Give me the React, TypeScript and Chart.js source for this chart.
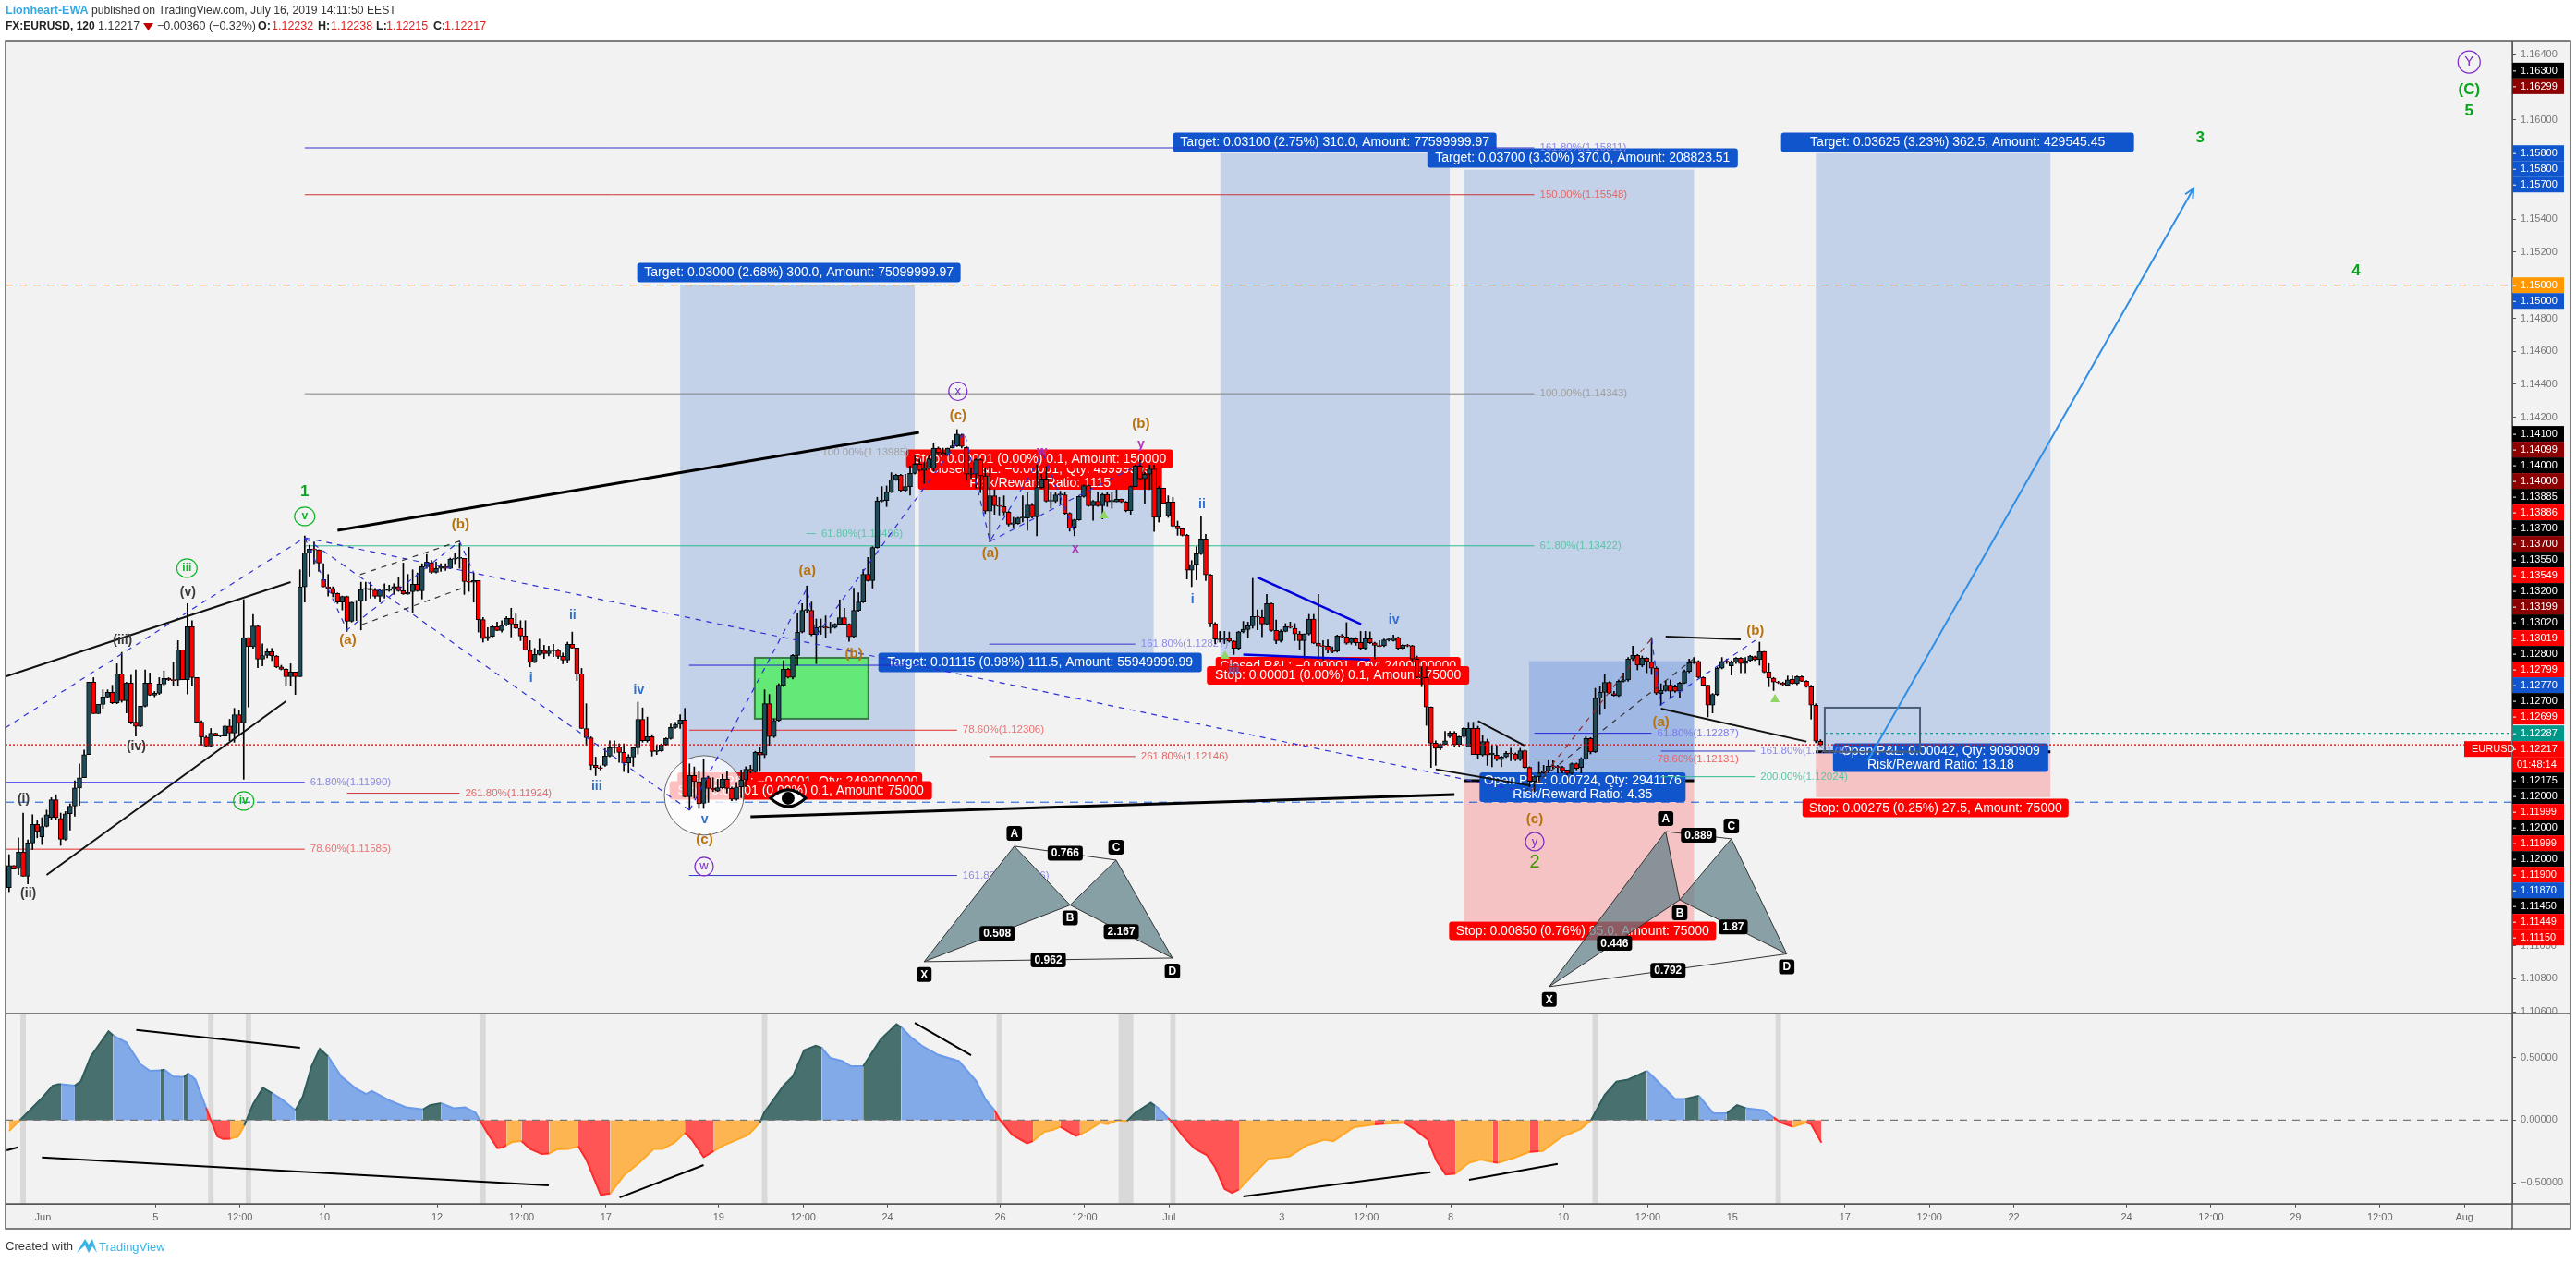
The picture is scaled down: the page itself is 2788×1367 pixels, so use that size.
import React, { useEffect, useRef } from "react";
import { Chart, registerables } from "chart.js";

Chart.register(...registerables);

const FONT = '"Liberation Sans", Arial, sans-serif';

// Price values are stored as points above 1.0 (1 point = 0.00001)
const opens = [
11352,11486,11468,11567,11421,11623,11735,11660,11723,11776,11884,11772,11645,11800,11846,11956,12018,12158,12596,12406,
12462,12507,12535,12471,12647,12484,12591,12354,12329,12451,12591,12518,12529,12585,12619,12611,12609,12792,12611,12932,
12624,12354,12264,12210,12288,12270,12270,12331,12288,12400,12350,12867,12811,12937,12736,12758,12781,12755,12689,12675,
12630,12658,12630,13174,13379,13402,13398,13217,13174,13165,13133,13081,13115,12965,13085,13089,13159,
13165,13154,13117,13152,13152,13159,13176,13150,13131,13145,13189,13150,13296,13320,13262,13286,13296,13286,13342,13346,
13346,13206,13202,13212,12975,12861,12874,12932,12910,12941,12982,12949,12923,12876,12790,12717,12764,12790,12770,12786,
12790,12753,12731,12826,12803,12647,12316,12260,12093,12078,12093,12149,12199,12205,12171,12106,12143,12199,12372,12242,
12266,12177,12180,12218,12255,12322,12341,12367,11902,12031,11994,11863,12018,11953,11938,11957,12009,11953,11887,
11963,12004,12069,12054,12172,12155,12466,12267,12364,12578,12675,12625,12759,12899,13031,13031,12886,12927,12931,12923,
12927,12947,12987,12947,12871,13031,13082,13250,13212,13412,13693,13697,13747,13822,13850,13757,13781,13861,13917,13878,
13893,13893,14014,13986,13973,14014,14027,14094,14018,13856,13856,13943,13846,13632,13725,13665,13660,13626,13553,13557,
13591,13591,13669,13598,13775,13828,13692,13692,13731,13731,13619,13535,13580,13721,13787,13665,13692,13665,13734,
13688,13688,13704,13688,13635,13781,13906,13828,13856,13887,13594,13772,13604,13688,13542,13525,13486,13274,13309,13374,
13464,13246,12951,12858,12855,12863,12845,12802,12901,12915,12938,12994,12990,12949,13072,12910,12848,12904,12932,12923,
12889,12848,12889,12979,12833,12815,12815,12787,12783,12876,12871,12837,12860,12837,12802,12860,12835,12817,12817,12852,
12848,12867,12802,12820,12817,12737,12625,12625,12446,12227,12196,12220,12267,12289,12218,12267,12205,12317,
12317,12155,12237,12158,12155,12127,12144,12166,12162,12127,12181,12080,11996,12024,12047,12060,12088,12084,12080,12065,
12043,12103,12080,12132,12255,12173,12500,12535,12595,12527,12513,12602,12610,12737,12759,12699,12742,12718,12681,12528,
12546,12578,12569,12541,12591,12662,12714,12722,12625,12578,12457,12522,12681,12722,12696,12718,12742,12709,12727,12751,
12733,12783,12658,12621,12597,12591,12578,12614,12587,12630,12602,12569,12457,12239,
];
const highs = [
11552,11486,11654,11804,11641,11794,11757,11776,11822,11897,11915,11804,11813,11860,11999,12102,12186,12596,12624,12462,
12550,12550,12578,12708,12777,12596,12639,12671,12451,12671,12652,12540,12624,12665,12624,12717,12848,12792,13072,12969,
12624,12363,12270,12316,12288,12275,12335,12372,12438,12428,13096,12867,13006,12941,12829,12801,12801,12758,12699,12680,
12708,12658,13277,13482,13426,13445,13398,13314,13249,13174,13137,13118,13118,13081,13091,13202,13202,
13202,13165,13156,13193,13184,13193,13230,13318,13249,13277,13258,13314,13370,13333,13324,13314,13314,13348,13380,13435,
13346,13413,13258,13212,12988,12926,12941,12960,12969,12993,13044,13016,12969,12969,12848,12801,12857,12820,12815,12826,
12796,12773,12839,12900,12803,12680,12466,12266,12143,12090,12195,12242,12242,12223,12223,12158,12205,12475,12441,12385,
12279,12214,12223,12260,12344,12353,12400,12438,12102,12083,12055,12130,12027,12018,12009,12037,12055,11962,11990,
12065,12084,12093,12178,12205,12550,12522,12373,12587,12727,12680,12765,13016,13072,13179,13082,12979,12979,12998,12960,
12951,13095,13044,12951,13166,13138,13278,13352,13417,13716,13781,13785,13865,13856,13856,13856,13906,13968,13949,13930,
13968,14046,14020,14014,14014,14061,14126,14098,14024,13893,13949,13949,13893,13902,13762,13716,13725,13632,13595,13595,
13725,13744,13679,13912,13856,13902,13744,13744,13753,13744,13623,13583,13725,13791,13791,13697,13744,13740,13744,
13744,13762,13706,13691,13785,13911,13939,13865,13911,13911,13781,13772,13725,13716,13572,13528,13492,13333,13417,13604,
13492,13250,12957,12904,12904,12900,12848,12904,12964,12960,13225,13035,13035,13128,13076,12973,12914,12951,12960,12951,
12904,12889,13007,13007,13128,12848,12852,12811,12882,12886,12957,12867,12867,12904,12904,12901,12839,12848,12858,12863,
12882,12871,12826,12826,12820,12755,12690,12690,12447,12242,12224,12298,12298,12298,12270,12322,12354,12354,
12330,12274,12252,12214,12214,12149,12177,12196,12168,12196,12186,12084,12028,12112,12093,12121,12121,12093,12088,12065,
12107,12107,12140,12267,12261,12559,12569,12643,12600,12540,12610,12653,12746,12815,12765,12755,12746,12867,12690,12587,
12606,12610,12580,12597,12671,12737,12746,12727,12629,12578,12528,12686,12746,12737,12727,12746,12746,12746,12759,12755,
12839,12783,12709,12625,12602,12597,12634,12634,12634,12634,12606,12578,12466,12248,
];
const lows = [
11328,11464,11431,11421,11375,11583,11654,11613,11720,11766,11766,11608,11639,11701,11785,11850,12018,12158,12406,12406,
12438,12503,12466,12466,12475,12410,12344,12270,12326,12447,12516,12508,12522,12578,12606,12578,12578,12611,12525,12572,
12354,12214,12204,12204,12270,12265,12270,12242,12233,12270,12009,12447,12801,12684,12695,12745,12727,12684,12671,12572,
12578,12522,12630,13081,13240,13314,13268,13174,13118,13113,13072,13034,12904,12960,12969,12913,13090,
13105,13105,13081,13105,13146,13128,13146,13128,13128,13020,13146,13100,13286,13255,13258,13268,13273,13283,13314,13286,
13128,13146,13081,12900,12839,12848,12870,12908,12900,12937,12870,12919,12848,12790,12689,12714,12760,12740,12755,12751,
12740,12708,12712,12803,12606,12316,12214,12068,12031,12065,12087,12145,12167,12111,12055,12046,12087,12162,12233,12233,
12149,12158,12177,12214,12251,12316,12316,11902,11822,11893,11832,11832,11869,11934,11934,11953,11925,11878,11882,
11897,11963,12047,12050,12056,12140,12214,12261,12360,12569,12621,12616,12699,12895,13016,12877,12709,12886,12863,12895,
12923,12942,12942,12843,12863,13026,13078,13208,13166,13408,13688,13660,13744,13818,13753,13753,13729,13856,13874,13800,
13889,13874,13970,13968,13968,14014,14023,14014,13818,13828,13772,13744,13617,13445,13613,13609,13609,13542,13535,13553,
13567,13516,13591,13483,13770,13688,13650,13684,13678,13613,13511,13483,13576,13716,13660,13576,13660,13585,13660,
13650,13688,13684,13628,13613,13781,13818,13678,13762,13510,13566,13678,13594,13538,13486,13482,13221,13175,13216,13370,
13212,12932,12830,12839,12830,12839,12764,12796,12895,12863,12923,12914,12871,12942,12904,12830,12839,12901,12923,12848,
12792,12737,12882,12830,12737,12727,12774,12774,12778,12868,12826,12826,12820,12796,12796,12830,12737,12811,12811,12845,
12845,12796,12796,12811,12727,12621,12569,12335,12080,12093,12186,12218,12261,12205,12205,12261,12205,12158,
12130,12149,12093,12084,12121,12084,12140,12121,12121,12121,12074,11963,11935,11991,12043,12047,12075,12047,12047,12037,
12037,12065,12047,12128,12162,12170,12401,12438,12527,12512,12510,12597,12602,12727,12671,12690,12653,12643,12522,12457,
12541,12503,12535,12503,12587,12653,12709,12621,12572,12386,12410,12516,12677,12709,12640,12709,12653,12653,12722,12727,
12699,12653,12569,12546,12588,12576,12572,12585,12580,12600,12565,12373,12230,12212,
];
const closes = [
11486,11464,11567,11421,11623,11735,11692,11723,11794,11884,11776,11645,11800,11846,11956,12018,12158,12596,12406,12462,
12507,12535,12471,12647,12484,12591,12354,12329,12451,12591,12518,12529,12585,12619,12611,12606,12792,12611,12932,12624,
12354,12264,12210,12288,12270,12270,12331,12288,12400,12350,12867,12811,12937,12736,12758,12781,12755,12689,12675,12630,
12658,12630,13174,13379,13402,13398,13318,13174,13165,13133,13081,13115,12965,13081,13089,13159,13165,
13156,13117,13152,13154,13159,13176,13150,13131,13139,13189,13150,13296,13324,13262,13286,13296,13286,13342,13346,13346,
13206,13202,13212,12975,12861,12874,12932,12910,12941,12982,12949,12923,12876,12790,12717,12764,12790,12770,12786,12790,
12753,12731,12826,12803,12647,12316,12260,12093,12078,12074,12149,12199,12205,12171,12106,12143,12199,12372,12242,12266,
12177,12180,12218,12255,12322,12341,12367,11902,12031,11994,11860,12018,11953,11944,11957,12009,11953,11887,11962,
12004,12069,12054,12172,12155,12466,12267,12364,12578,12675,12625,12759,12899,13031,13033,12886,12927,12931,12923,12927,
12947,12987,12947,12871,13031,13082,13250,13212,13412,13693,13697,13747,13822,13850,13757,13781,13861,13917,13878,13893,
13949,14014,13986,13973,14014,14027,14098,14024,13856,13860,13943,13846,13632,13725,13665,13660,13626,13553,13561,13591,
13595,13669,13598,13775,13828,13692,13695,13731,13733,13619,13529,13580,13721,13787,13665,13692,13665,13734,13688,
13697,13704,13688,13635,13781,13906,13828,13856,13887,13594,13772,13678,13688,13542,13525,13486,13274,13309,13374,13464,
13246,12951,12858,12853,12863,12845,12802,12901,12917,12938,12994,12990,12949,13072,12910,12848,12904,12932,12928,12889,
12848,12889,12979,12833,12815,12812,12789,12780,12876,12872,12833,12860,12835,12802,12860,12835,12820,12813,12852,12855,
12867,12802,12820,12815,12737,12625,12621,12446,12227,12196,12220,12242,12289,12218,12267,12317,12317,12158,
12158,12237,12155,12166,12127,12144,12166,12162,12127,12181,12080,11996,12024,12047,12060,12088,12084,12080,12061,12043,
12103,12075,12132,12255,12173,12500,12535,12595,12531,12517,12602,12610,12737,12759,12699,12742,12722,12681,12531,12546,
12578,12541,12541,12591,12662,12714,12722,12625,12578,12457,12522,12681,12722,12718,12718,12742,12709,12727,12755,12733,
12783,12658,12621,12597,12593,12582,12610,12587,12630,12602,12569,12457,12239,12217,
];

// Oscillator pane: vertices (bar position, value)
const oscBars = [
0,2.3,7,9.3,10.5,11.1,14,15.3,17.4,21.2,22.2,25,28,30,32.3,33.1,35,37.2,38.2,39.7,42,43,44.4,45.6,47.2,48.8,50.1,52,54.1,56.1,58.2,61,62.6,64.5,66.2,68,70.8,74,76.1,77.3,80.9,84.6,88.2,89.7,92.1,94.7,97.2,99.4,100.3,
102.2,104.1,105.3,106,107.2,109.2,111,113.5,115.1,116.7,119.2,121.3,123,126.1,128.1,131.1,134.3,137.4,139.3,141.8,144,145.5,148,150.2,152.4,157.5,160,160.9,165,167,169.4,171.9,173.2,175,177.6,179.4,182,185.7,189.1,190.1,192,194.5,198,202.4,206.1,208.1,210,211.2,
213.8,216.9,218.2,220.6,222.5,224,227.3,228.2,230,232.5,234,236.3,238.2,240.1,243.3,244.2,245.1,247,248.3,250.2,252.7,255.2,257,259,260.6,262.1,265.3,268.4,272.8,276.6,280.3,282.2,286.6,291,293.1,297.3,299.8,302.3,304.2,306.1,308.2,311.1,313.6,316.2,317.3,320.5,324,326,326.8,330.5,334.9,337.1,
340,342.5,345,349,350.6,355,357.1,360.1,363.2,366,368.2,370.1,373.9,376,377.6,380.1,383,384,386.2,
];
const oscValues = [
-0.086,0,0.177,0.275,0.287,0.287,0.275,0.312,0.508,0.709,0.675,0.619,0.447,0.393,0.398,0.403,0.349,0.344,0.373,0.324,0.098,0,-0.13,-0.15,-0.147,-0.13,-0.044,0.128,0.258,0.214,0.164,0.079,0.189,0.434,0.569,0.508,0.349,0.25,0.209,0.233,0.16,0.103,0.086,0.12,0.135,0.096,0.103,0.061,0,
-0.118,-0.223,-0.216,-0.199,-0.174,-0.167,-0.228,-0.27,-0.265,-0.233,-0.228,-0.209,-0.314,-0.596,-0.584,-0.437,-0.339,-0.228,-0.228,-0.179,-0.101,-0.155,-0.295,-0.245,-0.199,-0.118,-0.02,0.061,0.275,0.349,0.557,0.594,0.577,0.496,0.471,0.43,0.43,0.643,0.766,0.741,0.668,0.594,0.52,0.471,0.312,0.164,0.079,0,
-0.118,-0.184,-0.167,-0.093,-0.076,-0.052,-0.125,-0.113,-0.081,-0.02,-0.032,0,-0.007,0.061,0.14,0.115,0.091,0.017,-0.037,-0.13,-0.228,-0.277,-0.376,-0.547,-0.579,-0.552,-0.425,-0.307,-0.29,-0.199,-0.155,-0.167,-0.056,-0.034,-0.029,-0.02,-0.081,-0.155,-0.326,-0.432,-0.425,-0.339,-0.314,-0.334,-0.339,-0.302,-0.253,-0.248,-0.245,-0.142,-0.069,0,
0.201,0.307,0.324,0.393,0.336,0.169,0.169,0.194,0.054,0.054,0.12,0.096,0.079,0.022,-0.02,-0.052,-0.02,-0.032,-0.179,
];
const oscStateEnds = [2.3,11.1,14,22.2,32.3,33.1,37.2,38.2,42,47.2,50.1,56.1,61,68,88.2,92.1,100.3,106,109.2,115.1,121.3,128.1,144,150.2,160,173.2,182,190.1,210,218.2,224,228.2,238.2,244.2,247,262.1,291,293.1,297.3,308.2,316.2,317.3,324,326,337.1,349,357.1,360.1,366,370.1,376,380.1,383,387];
const oscStates = ["o","t","b","t","b","t","b","t","b","r","o","t","b","t","b","t","b","r","o","r","o","r","o","r","o","t","b","t","b","r","o","r","o","t","b","r","o","r","o","r","o","r","o","r","o","t","b","t","b","t","b","r","o","r"];
const oscBandBars = [3, 43, 51, 101, 161, 211, 237, 238, 239, 248, 338, 377];

// Axes
const timeTickBars = [7,31,49,67,91,109,127,151,169,187,211,229,247,271,289,307,331,349,367,391,409,427,451,469,487,505,523];
const timeTickLabels = ["Jun","5","12:00","10","12","12:00","17","19","12:00","24","26","12:00","Jul","3","12:00","8","10","12:00","15","17","12:00","22","24","12:00","29","12:00","Aug"];
const priceTicks = [1.164,1.162,1.16,1.158,1.156,1.154,1.152,1.15,1.148,1.146,1.144,1.142,1.14,1.138,1.136,1.134,1.132,1.13,1.128,1.126,1.124,1.122,1.12,1.118,1.116,1.114,1.112,1.11,1.108,1.106];
const oscTicks = [0.5, 0, -0.5];
const priceTagValues = [1.163,1.16299,1.158,1.158,1.157,1.15,1.15,1.141,1.14099,1.14,1.14,1.13885,1.13886,1.137,1.137,1.1355,1.13549,1.132,1.13199,1.1302,1.13019,1.128,1.12799,1.1277,1.127,1.12699,1.12287,1.12217,1.12217,1.12175,1.12,1.11999,1.12,1.11999,1.12,1.119,1.1187,1.1145,1.11449,1.1115];
const priceTagColors = ["k","D","B","B","B","O","B","k","D","k","D","k","r","k","D","k","r","k","D","k","r","k","r","B","k","r","T","r","r","k","k","r","k","r","k","r","B","k","r","r"];

// Drawings, in bar / price coordinates
const positionBoxes = [
  { from: 143, to: 193, target: 1.15, entry: 1.12, stop: 1.11999, bar: false },
  { from: 193.9, to: 243.9, target: 1.1277, entry: 1.13885, stop: 1.13886, bar: false },
  { from: 258.1, to: 307, target: 1.158, entry: 1.127, stop: 1.12699, bar: false },
  { from: 310, to: 359.05, target: 1.157, entry: 1.12, stop: 1.1115, bar: true },
  { from: 385, to: 435, target: 1.158, entry: 1.12175, stop: 1.119, bar: true },
];
const positionLabels = [
  { t: ["Target: 0.03000 (2.68%) 300.0, Amount: 75099999.97"], b: 168.3, p: 1.15077, w: 350, h: 21, c: "#1155cc" },
  { t: ["Closed P&L: \u22120.00001, Qty: 2499000000"], b: 168.5, p: 1.11994, w: 265, h: 20, c: "#ff0000" },
  { t: ["Stop: 0.00001 (0.00%) 0.1, Amount: 75000"], b: 168.7, p: 1.11941, w: 284, h: 20, c: "#ff0000" },
  { t: ["Closed P&L: \u22120.00001, Qty: 49999999", "Risk/Reward Ratio: 1115"], b: 219.7, p: 1.13846, w: 264, h: 30, c: "#ff0000" },
  { t: ["Stop: 0.00001 (0.00%) 0.1, Amount: 150000"], b: 219.6, p: 1.1395, w: 289, h: 20, c: "#ff0000" },
  { t: ["Target: 0.01115 (0.98%) 111.5, Amount: 55949999.99"], b: 219.7, p: 1.12716, w: 350, h: 21, c: "#1155cc" },
  { t: ["Target: 0.03100 (2.75%) 310.0, Amount: 77599999.97"], b: 282.5, p: 1.15866, w: 350, h: 21, c: "#1155cc" },
  { t: ["Closed P&L: \u22120.00001, Qty: 2400000000"], b: 283.2, p: 1.12694, w: 265, h: 20, c: "#ff0000" },
  { t: ["Stop: 0.00001 (0.00%) 0.1, Amount: 75000"], b: 283.2, p: 1.12638, w: 284, h: 20, c: "#ff0000" },
  { t: ["Target: 0.03700 (3.30%) 370.0, Amount: 208823.51"], b: 335.3, p: 1.1577, w: 336, h: 21, c: "#1155cc" },
  { t: ["Open P&L: 0.00724, Qty: 2941176", "Risk/Reward Ratio: 4.35"], b: 335.3, p: 1.11961, w: 223, h: 32, c: "#1155cc" },
  { t: ["Stop: 0.00850 (0.76%) 85.0, Amount: 75000"], b: 335.3, p: 1.11091, w: 289, h: 20, c: "#ff0000" },
  { t: ["Target: 0.03625 (3.23%) 362.5, Amount: 429545.45"], b: 415.2, p: 1.15866, w: 382, h: 21, c: "#1155cc" },
  { t: ["Open P&L: 0.00042, Qty: 9090909", "Risk/Reward Ratio: 13.18"], b: 411.6, p: 1.1214, w: 233, h: 31, c: "#1155cc" },
  { t: ["Stop: 0.00275 (0.25%) 27.5, Amount: 75000"], b: 410.5, p: 1.11835, w: 288, h: 20, c: "#ff0000" },
];
const fibLines = [
  { a: 63, b: 325, p: 1.15832, c: "#3333cc", t: "161.80%(1.15811)", tc: "#8a8ae6" },
  { a: 63, b: 325, p: 1.15548, c: "#cc3333", t: "150.00%(1.15548)", tc: "#e06a6a" },
  { a: 63, b: 325, p: 1.14343, c: "#808080", t: "100.00%(1.14343)", tc: "#a0a0a0" },
  { a: 63, b: 325, p: 1.13422, c: "#2db88f", t: "61.80%(1.13422)", tc: "#5cc4a8" },
  { a: -0.85, b: 63, p: 1.1199, c: "#2a2ae6", t: "61.80%(1.11990)", tc: "#8a8ae6" },
  { a: -0.85, b: 63, p: 1.11585, c: "#e62a2a", t: "78.60%(1.11585)", tc: "#f07070" },
  { a: 72, b: 96, p: 1.11924, c: "#cc3333", t: "261.80%(1.11924)", tc: "#e06a6a" },
  { a: 169.9, b: 171.9, p: 1.13496, c: "#5cc4a8", t: "61.80%(1.13496)", tc: "#5cc4a8" },
  { a: 172, b: 172, p: 1.13985, c: "#a0a0a0", t: "100.00%(1.13985)", tc: "#a0a0a0" },
  { a: 208.9, b: 240, p: 1.12827, c: "#3333cc", t: "161.80%(1.12827)", tc: "#8a8ae6" },
  { a: 144.9, b: 191, p: 1.12699, c: "#2222cc", t: "", tc: "" },
  { a: 144.9, b: 202, p: 1.12306, c: "#e62a2a", t: "78.60%(1.12306)", tc: "#f07070" },
  { a: 208.9, b: 240, p: 1.12146, c: "#cc3333", t: "261.80%(1.12146)", tc: "#e06a6a" },
  { a: 144.9, b: 202, p: 1.11426, c: "#3333cc", t: "161.80%(1.11426)", tc: "#8a8ae6" },
  { a: 325, b: 350, p: 1.12287, c: "#2222dd", t: "61.80%(1.12287)", tc: "#7a7aee" },
  { a: 325, b: 350, p: 1.12131, c: "#ee2222", t: "78.60%(1.12131)", tc: "#f06060" },
  { a: 352, b: 372, p: 1.12179, c: "#3333cc", t: "161.80%(1.12178)", tc: "#8a8ae6" },
  { a: 352, b: 372, p: 1.12024, c: "#2db88f", t: "200.00%(1.12024)", tc: "#5cc4a8" },
];
const trendLines = [
  { pts: [[70, 1.13516], [193.9, 1.14109]], c: "#000", w: 3 },
  { pts: [[-0.6, 1.12632], [60, 1.13203]], c: "#111", w: 2 },
  { pts: [[8, 1.11429], [59, 1.12481]], c: "#111", w: 2 },
  { pts: [[158, 1.11782], [308, 1.11916]], c: "#000", w: 3 },
  { pts: [[266, 1.13231], [288.1, 1.12947]], c: "#0000dd", w: 2.5 },
  { pts: [[263, 1.12763], [290, 1.12733]], c: "#0000dd", w: 2.5 },
  { pts: [[313, 1.12361], [322.9, 1.12213]], c: "#111", w: 2 },
  { pts: [[304, 1.12069], [323.9, 1.11972]], c: "#111", w: 2 },
  { pts: [[353, 1.12873], [369, 1.12856]], c: "#111", w: 2 },
  { pts: [[352, 1.12436], [383, 1.12237]], c: "#111", w: 2 },
];
const oscTrendLines = [
  [[27.1, 0.719], [62, 0.577]],
  [[7, -0.297], [115, -0.52]],
  [[130.1, -0.616], [148, -0.358]],
  [[193, 0.776], [205, 0.518]],
  [[263, -0.608], [302.9, -0.415]],
  [[311.1, -0.476], [330, -0.348]],
  [[-0.5, -0.24], [1.9, -0.216]],
];
const dashedLines = [
  { pts: [[-0.85, 1.12319], [63, 1.13471]], c: "#2f2fd8" },
  { pts: [[63, 1.13471], [145, 1.11821]], c: "#2f2fd8" },
  { pts: [[63, 1.13471], [321, 1.11944]], c: "#2f2fd8" },
  { pts: [[63, 1.13471], [72, 1.12912], [96, 1.13449], [99, 1.13259]], c: "#2f2fd8" },
  { pts: [[74.8, 1.13248], [96.4, 1.13454]], c: "#333" },
  { pts: [[75.2, 1.12945], [96.4, 1.13164]], c: "#333" },
  { pts: [[145, 1.11821], [170, 1.13164], [172, 1.12878], [203.6, 1.14109], [209, 1.13449], [220.3, 1.1398], [227.2, 1.13494]], c: "#2f2fd8" },
  { pts: [[209, 1.13449], [241.4, 1.13924]], c: "#2f2fd8" },
  { pts: [[350, 1.12862], [351.9, 1.12459], [372.1, 1.1285]], c: "#2f2fd8" },
  { pts: [[324.3, 1.11933], [350, 1.12862]], c: "#8b2a2a" },
  { pts: [[322.9, 1.11933], [359, 1.12739]], c: "#333" },
];
const harmonicPatterns = [
  {
    X: [195, 1.10904], A: [214.2, 1.11603], B: [226.1, 1.11247], C: [235.9, 1.11519], D: [247.9, 1.10926],
    ac: "0.766", bd: "2.167", xb: "0.508", xd: "0.962", fill: "#86a0a6",
  },
  {
    X: [328.2, 1.10753], A: [353, 1.11692], B: [356, 1.11278], C: [367, 1.11648], D: [378.8, 1.10951],
    ac: "0.889", bd: "1.87", xb: "0.446", xd: "0.792", fill: "rgba(96,128,136,0.72)",
  },
];
const waveLabels = [
  ["1", 63, 1.13751, "gLarge"], ["v", 63, 1.136, "gCirc"], ["iii", 37.9, 1.13287, "gCirc"], ["iv", 50, 1.11877, "gCirc"],
  ["(v)", 38.1, 1.13141, "black"], ["(iii)", 24.2, 1.1285, "black"], ["(iv)", 27.1, 1.12207, "black"], ["(i)", 3.1, 1.11888, "black"], ["(ii)", 4.1, 1.11318, "black"],
  ["(a)", 72.2, 1.1285, "brown"], ["(b)", 96.2, 1.1355, "brown"],
  ["i", 111.2, 1.12621, "blue"], ["ii", 120.1, 1.13001, "blue"], ["iii", 125.2, 1.11966, "blue"], ["iv", 134.2, 1.12548, "blue"], ["v", 148.2, 1.11765, "blue"],
  ["(c)", 148.2, 1.11642, "brown"], ["w", 148.1, 1.1148, "pCirc"],
  ["(a)", 170.1, 1.1327, "brown"], ["(b)", 180, 1.12766, "brown"], ["(c)", 202.2, 1.1421, "brown"], ["x", 202.2, 1.14358, "pCirc"],
  ["(a)", 209.1, 1.13376, "brown"], ["x", 227.2, 1.13404, "magenta"], ["w", 220.1, 1.13991, "magenta"], ["y", 241.2, 1.14036, "magenta"], ["(b)", 241.2, 1.14159, "brown"],
  ["i", 252.2, 1.13097, "blue"], ["ii", 254.2, 1.13673, "blue"], ["iii", 261, 1.12666, "blue"], ["iv", 295.1, 1.12973, "blue"],
  ["(c)", 325.1, 1.11765, "brown"], ["y", 325.1, 1.11631, "pCirc"], ["2", 325.1, 1.11502, "olive"],
  ["(a)", 352, 1.12352, "brown"], ["(b)", 372.1, 1.12906, "brown"],
  ["Y", 524.2, 1.16352, "pCircL"], ["(C)", 524.2, 1.16184, "gLarge"], ["5", 524.2, 1.16056, "gLarge"], ["4", 500.1, 1.15088, "gLarge"], ["3", 466.9, 1.15893, "gLarge"],
];
const greenMarkers = [[233.3, 1.13611], [259.1, 1.12761], [376.3, 1.12498]];
const greenZone = { from: 158.9, to: 183.1, top: 1.12744, bottom: 1.12375 };
const markCircle = { bar: 148.1, price: 1.11911 };
const eyeMark = { bar: 166, price: 1.11894 };
const tradeRect = { from: 386.9, to: 407.2, top: 1.12442, bottom: 1.12175 };
const closedZone = { from: 323.9, to: 359.05, top: 1.12724, bottom: 1.12 };
const forecastArrow = [[396.1, 1.12123], [465.5, 1.15586]];
const lastPrice = 1.12217;
const blueLevel = 1.1187;
const orangeLevel = 1.15;
const tealLevel = 1.12287;

const STYLE: any = {
  black: { c: "#3a3a3a", f: `bold 14px ${FONT}` },
  brown: { c: "#b8730f", f: `bold 15px ${FONT}` },
  blue: { c: "#2f6fd0", f: `bold 14px ${FONT}` },
  magenta: { c: "#b030b8", f: `bold 14px ${FONT}` },
  gLarge: { c: "#0aa51e", f: `bold 17px ${FONT}` },
  olive: { c: "#3c9a00", f: `20px ${FONT}` },
  gCirc: { c: "#12b52a", f: `bold 12px ${FONT}`, r: 11, ry: 10 },
  pCirc: { c: "#7b28c8", f: `13px ${FONT}`, r: 10, ry: 10 },
  pCircL: { c: "#7b28c8", f: `15px ${FONT}`, r: 12, ry: 12 },
};
const OSC: any = {
  t: { fill: "#47706e", line: "#2f5d5b" },
  b: { fill: "#82a9e8", line: "#6a9ae8" },
  r: { fill: "#ff5555", line: "#ff2a2a" },
  o: { fill: "#fdb551", line: "#ffa726" },
};
const TAG: any = { k: "#000000", D: "#8b0000", r: "#ff0000", B: "#1155cc", T: "#009688", O: "#ff9800" };

function oscStateAt(ctx: any) {
  const mid = (ctx.p0.parsed.x + ctx.p1.parsed.x) / 2;
  const i = oscStateEnds.findIndex((e) => mid < e);
  return OSC[oscStates[i < 0 ? oscStates.length - 1 : i]];
}

const pt = (v: number) => 1 + v / 100000;

const drawingsPlugin = {
  id: "drawings",
  beforeDraw(chart: any) {
    const c = chart.ctx;
    c.save();
    c.fillStyle = "#ffffff";
    c.fillRect(0, 0, 2788, 1367);
    c.fillStyle = "#f2f2f2";
    c.fillRect(6, 44, 2776, 1286);
    c.restore();
  },
  beforeDatasetsDraw(chart: any) {
    const c = chart.ctx;
    const sx = chart.scales.x, sy = chart.scales.y;
    const X = (v: number) => sx.getPixelForValue(v);
    const Y = (v: number) => sy.getPixelForValue(v);
    c.save();
    for (const b of positionBoxes) {
      c.fillStyle = "rgb(196,210,233)";
      c.fillRect(X(b.from), Y(Math.max(b.target, b.entry)), X(b.to) - X(b.from), Math.abs(Y(b.target) - Y(b.entry)));
      c.fillStyle = "rgb(245,195,195)";
      c.fillRect(X(b.from), Math.min(Y(b.entry), Y(b.stop)), X(b.to) - X(b.from), Math.abs(Y(b.stop) - Y(b.entry)));
    }
    c.fillStyle = "rgb(160,184,228)";
    c.fillRect(X(closedZone.from), Y(closedZone.top), X(closedZone.to) - X(closedZone.from), Y(closedZone.bottom) - Y(closedZone.top));
    c.strokeStyle = "#000";
    c.lineWidth = 3;
    for (const b of positionBoxes) {
      if (!b.bar) continue;
      c.beginPath();
      c.moveTo(X(b.from), Y(b.entry));
      c.lineTo(X(b.to), Y(b.entry));
      c.stroke();
    }

    // horizontal levels
    const hline = (p: number, col: string, dash: number[], from = sx.min, w = 1) => {
      c.strokeStyle = col;
      c.lineWidth = w;
      c.setLineDash(dash);
      c.beginPath();
      c.moveTo(X(from), Y(p));
      c.lineTo(X(sx.max), Y(p));
      c.stroke();
      c.setLineDash([]);
    };
    hline(orangeLevel, "#ff9800", [8, 7]);
    hline(blueLevel, "#1155cc", [9, 7]);

    // green zone
    c.fillStyle = "#64e878";
    c.strokeStyle = "#3f7a4c";
    c.lineWidth = 2;
    c.fillRect(X(greenZone.from), Y(greenZone.top), X(greenZone.to) - X(greenZone.from), Y(greenZone.bottom) - Y(greenZone.top));
    c.strokeRect(X(greenZone.from), Y(greenZone.top), X(greenZone.to) - X(greenZone.from), Y(greenZone.bottom) - Y(greenZone.top));

    // position labels
    for (const l of positionLabels) {
      const cx = X(l.b), cy = Y(l.p);
      c.fillStyle = l.c;
      c.beginPath();
      c.roundRect(cx - l.w / 2, cy - l.h / 2, l.w, l.h, 3);
      c.fill();
      c.fillStyle = "#fff";
      c.font = `14px ${FONT}`;
      c.textAlign = "center";
      c.textBaseline = "middle";
      l.t.forEach((s: string, i: number) => {
        c.fillText(s, cx, cy + (i - (l.t.length - 1) / 2) * 15 + 0.5);
      });
    }

    // circle mark
    c.fillStyle = "rgba(255,255,255,0.75)";
    c.strokeStyle = "#666";
    c.lineWidth = 1;
    c.beginPath();
    c.arc(X(markCircle.bar), Y(markCircle.price), 43, 0, Math.PI * 2);
    c.fill();
    c.stroke();

    // fibonacci levels
    for (const f of fibLines) {
      c.strokeStyle = f.c;
      c.lineWidth = 1;
      c.beginPath();
      c.moveTo(X(f.a), Y(f.p));
      c.lineTo(X(f.b), Y(f.p));
      c.stroke();
      if (f.t) {
        c.fillStyle = f.tc;
        c.font = `11.5px ${FONT}`;
        c.textAlign = "left";
        c.textBaseline = "middle";
        c.fillText(f.t, X(f.b) + 6, Y(f.p));
      }
    }

    // harmonic patterns
    const labelBox = (s: string, x: number, y: number) => {
      c.font = `bold 12px ${FONT}`;
      const w = c.measureText(s).width + 8;
      c.fillStyle = "#000";
      c.beginPath();
      c.roundRect(x - w / 2, y - 8, w, 16, 3);
      c.fill();
      c.fillStyle = "#fff";
      c.textAlign = "center";
      c.textBaseline = "middle";
      c.fillText(s, x, y + 0.5);
    };
    for (const h of harmonicPatterns) {
      const P = (q: number[]) => [X(q[0]), Y(q[1])];
      const [xx, xy] = P(h.X), [ax, ay] = P(h.A), [bx, by] = P(h.B), [cx, cy] = P(h.C), [dx, dy] = P(h.D);
      c.fillStyle = h.fill;
      c.beginPath();
      c.moveTo(xx, xy); c.lineTo(ax, ay); c.lineTo(bx, by); c.closePath();
      c.fill();
      c.beginPath();
      c.moveTo(bx, by); c.lineTo(cx, cy); c.lineTo(dx, dy); c.closePath();
      c.fill();
      c.strokeStyle = "#333";
      c.lineWidth = 1;
      c.beginPath();
      c.moveTo(xx, xy); c.lineTo(ax, ay); c.lineTo(bx, by); c.lineTo(cx, cy); c.lineTo(dx, dy); c.lineTo(xx, xy); c.lineTo(bx, by); c.lineTo(dx, dy);
      c.moveTo(ax, ay); c.lineTo(cx, cy);
      c.stroke();
      labelBox(h.ac, (ax + cx) / 2, (ay + cy) / 2);
      labelBox(h.bd, (bx + dx) / 2, (by + dy) / 2);
      labelBox(h.xb, (xx + bx) / 2, (xy + by) / 2);
      labelBox(h.xd, (xx + dx) / 2, (xy + dy) / 2);
      labelBox("X", xx, xy + 14);
      labelBox("A", ax, ay - 14);
      labelBox("B", bx, by + 14);
      labelBox("C", cx, cy - 14);
      labelBox("D", dx, dy + 14);
    }
    c.restore();
  },
  afterDatasetsDraw(chart: any) {
    const c = chart.ctx;
    const sx = chart.scales.x, sy = chart.scales.y, so = chart.scales.y2;
    const X = (v: number) => sx.getPixelForValue(v);
    const Y = (v: number) => sy.getPixelForValue(v);
    const O = (v: number) => so.getPixelForValue(v);
    c.save();
    c.lineCap = "butt";

    // last price, teal level, zero line
    const level = (p: number, col: string, dash: number[], from: number) => {
      c.strokeStyle = col;
      c.lineWidth = 1.2;
      c.setLineDash(dash);
      c.beginPath();
      c.moveTo(X(from), Y(p));
      c.lineTo(X(sx.max), Y(p));
      c.stroke();
      c.setLineDash([]);
    };
    level(lastPrice, "#e00000", [2, 2], sx.min);
    level(tealLevel, "#00a596", [3, 3], tradeRect.from);
    c.strokeStyle = "#777";
    c.lineWidth = 1.2;
    c.setLineDash([8, 7]);
    c.beginPath();
    c.moveTo(X(sx.min), O(0));
    c.lineTo(X(sx.max), O(0));
    c.stroke();
    c.setLineDash([]);

    // trade outline
    c.strokeStyle = "#4a5e78";
    c.lineWidth = 2;
    c.strokeRect(X(tradeRect.from), Y(tradeRect.top), X(tradeRect.to) - X(tradeRect.from), Y(tradeRect.bottom) - Y(tradeRect.top));

    // dashed wave paths
    for (const d of dashedLines) {
      c.strokeStyle = d.c;
      c.lineWidth = 1.2;
      c.setLineDash([6, 6]);
      c.beginPath();
      d.pts.forEach((q: number[], i: number) => (i ? c.lineTo(X(q[0]), Y(q[1])) : c.moveTo(X(q[0]), Y(q[1]))));
      c.stroke();
    }
    c.setLineDash([]);

    // trend lines
    for (const t of trendLines) {
      c.strokeStyle = t.c;
      c.lineWidth = t.w;
      c.beginPath();
      c.moveTo(X(t.pts[0][0]), Y(t.pts[0][1]));
      c.lineTo(X(t.pts[1][0]), Y(t.pts[1][1]));
      c.stroke();
    }
    c.strokeStyle = "#000";
    c.lineWidth = 2;
    for (const t of oscTrendLines) {
      c.beginPath();
      c.moveTo(X(t[0][0]), O(t[0][1]));
      c.lineTo(X(t[1][0]), O(t[1][1]));
      c.stroke();
    }

    // forecast arrow
    {
      const x1 = X(forecastArrow[0][0]), y1 = Y(forecastArrow[0][1]);
      const x2 = X(forecastArrow[1][0]), y2 = Y(forecastArrow[1][1]);
      const a = Math.atan2(y2 - y1, x2 - x1);
      c.strokeStyle = "#2f8fe6";
      c.lineWidth = 2;
      c.beginPath();
      c.moveTo(x1, y1);
      c.lineTo(x2, y2);
      c.moveTo(x2 - 11 * Math.cos(a - 0.45), y2 - 11 * Math.sin(a - 0.45));
      c.lineTo(x2, y2);
      c.lineTo(x2 - 11 * Math.cos(a + 0.45), y2 - 11 * Math.sin(a + 0.45));
      c.stroke();
    }

    // eye
    {
      const ex = X(eyeMark.bar), ey = Y(eyeMark.price);
      c.fillStyle = "#fff";
      c.strokeStyle = "#000";
      c.lineWidth = 3;
      c.beginPath();
      c.moveTo(ex - 19, ey);
      c.quadraticCurveTo(ex, ey - 18, ex + 19, ey);
      c.quadraticCurveTo(ex, ey + 18, ex - 19, ey);
      c.closePath();
      c.fill();
      c.stroke();
      c.fillStyle = "#000";
      c.beginPath();
      c.arc(ex, ey, 7, 0, Math.PI * 2);
      c.fill();
    }

    // green markers
    c.fillStyle = "#8fd663";
    for (const g of greenMarkers) {
      const gx = X(g[0]), gy = Y(g[1]);
      c.beginPath();
      c.moveTo(gx, gy - 5);
      c.lineTo(gx + 5, gy + 4);
      c.lineTo(gx - 5, gy + 4);
      c.closePath();
      c.fill();
    }

    // wave labels
    c.textAlign = "center";
    c.textBaseline = "middle";
    for (const w of waveLabels as any[]) {
      const st = STYLE[w[3]];
      const x = X(w[1]), y = Y(w[2]);
      if (st.r) {
        c.strokeStyle = st.c;
        c.lineWidth = 1.2;
        c.beginPath();
        c.ellipse(x, y, st.r, st.ry, 0, 0, Math.PI * 2);
        c.stroke();
      }
      c.fillStyle = st.c;
      c.font = st.f;
      c.fillText(w[0], x, y);
    }

    // frame
    c.strokeStyle = "#555";
    c.lineWidth = 1.5;
    c.strokeRect(6, 44, 2776, 1286);
    c.beginPath();
    c.moveTo(6, 1097); c.lineTo(2782, 1097);
    c.moveTo(6, 1303); c.lineTo(2782, 1303);
    c.moveTo(2719, 44); c.lineTo(2719, 1330);
    c.stroke();

    // price tags, pushed down when they would overlap
    let prev = -100;
    c.textBaseline = "middle";
    c.textAlign = "left";
    c.font = `11px ${FONT}`;
    priceTagValues.forEach((v, i) => {
      const y = Math.max(Y(v), prev + 17);
      prev = y;
      c.fillStyle = TAG[priceTagColors[i]];
      c.fillRect(2719, y - 8.5, 56, 17);
      c.fillStyle = "#fff";
      const second = i > 0 && priceTagValues[i - 1] === v && v === lastPrice;
      c.fillText(second ? "01:48:14" : v.toFixed(5), second ? 2724 : 2728, y + 0.5);
      if (!second) c.fillRect(2720, y, 3, 1);
      if (v === lastPrice && !second) {
        c.fillStyle = "#ff0000";
        c.fillRect(2667, y - 8.5, 51, 17);
        c.fillStyle = "#fff";
        c.fillText("EURUSD", 2675, y + 0.5);
      }
    });

    // header
    const run = (s: string, x: number, y: number, col: string, bold = false, size = 12.5) => {
      c.font = `${bold ? "bold " : ""}${size}px ${FONT}`;
      c.fillStyle = col;
      c.textAlign = "left";
      c.textBaseline = "middle";
      c.fillText(s, x, y);
    };
    run("Lionheart-EWA", 6, 12, "#3aa8e0", true, 12.5);
    run("published on TradingView.com, July 16, 2019 14:11:50 EEST", 99, 12, "#333", false, 12.2);
    run("FX:EURUSD, 120", 6, 29, "#222", true, 12);
    run("1.12217", 106, 29, "#333");
    c.fillStyle = "#c00000";
    c.beginPath();
    c.moveTo(155, 25); c.lineTo(166, 25); c.lineTo(160.5, 33); c.closePath();
    c.fill();
    run("\u22120.00360 (\u22120.32%)", 170, 29, "#333");
    run("O:", 279, 29, "#222", true);
    run("1.12232", 294, 29, "#e02020");
    run("H:", 344, 29, "#222", true);
    run("1.12238", 358, 29, "#e02020");
    run("L:", 407, 29, "#222", true);
    run("1.12215", 418, 29, "#e02020");
    run("C:", 469, 29, "#222", true);
    run("1.12217", 481, 29, "#e02020");

    // footer
    run("Created with", 6, 1349, "#333", false, 13);
    c.fillStyle = "#3bb3e4";
    c.beginPath();
    c.moveTo(83, 1356); c.lineTo(92, 1341); c.lineTo(96, 1347); c.lineTo(100, 1341); c.lineTo(105, 1356);
    c.lineTo(100, 1349); c.lineTo(96, 1356); c.lineTo(92, 1348); c.closePath();
    c.fill();
    run("TradingView", 107, 1350, "#3bb3e4", false, 13);
    c.restore();
  },
};

export default function App() {
  const ref = useRef<HTMLCanvasElement | null>(null);
  useEffect(() => {
    if (!ref.current) return;
    const ids = closes.map((_, i) => i);
    const chart = new Chart(ref.current, {
      type: "bar",
      data: {
        datasets: [
          {
            type: "bar",
            yAxisID: "y2",
            order: 10,
            grouped: false,
            barThickness: 5.2,
            backgroundColor: "#d9d9d9",
            data: oscBandBars.map((b) => ({ x: b, y: [-0.667, 0.85] })),
          },
          {
            type: "line",
            yAxisID: "y2",
            order: 3,
            data: oscBars.map((b, i) => ({ x: b, y: oscValues[i] })),
            fill: "origin",
            tension: 0,
            pointRadius: 0,
            borderWidth: 2,
            segment: {
              borderColor: (ctx: any) => oscStateAt(ctx).line,
              backgroundColor: (ctx: any) => oscStateAt(ctx).fill,
            },
          },
          {
            type: "bar",
            yAxisID: "y",
            order: 5,
            grouped: false,
            barThickness: 1,
            backgroundColor: "#000",
            data: ids.map((i) => ({ x: i, y: [pt(lows[i]), pt(highs[i])] })),
          },
          {
            type: "bar",
            yAxisID: "y",
            order: 4,
            grouped: false,
            barThickness: 5,
            minBarLength: 1,
            borderWidth: 1,
            borderSkipped: false,
            borderColor: "#000",
            backgroundColor: ids.map((i) => (closes[i] >= opens[i] ? "#1d4b58" : "#ff0000")),
            data: ids.map((i) => ({ x: i, y: [pt(Math.min(opens[i], closes[i])), pt(Math.max(opens[i], closes[i]))] })),
          },
        ] as any,
      },
      options: {
        animation: false,
        responsive: false,
        devicePixelRatio: 1,
        layout: { padding: { top: 44, left: 6, right: 6, bottom: 37 } },
        plugins: { legend: { display: false }, tooltip: { enabled: false }, title: { display: false } },
        scales: {
          x: {
            type: "linear",
            position: "bottom",
            offset: false,
            min: -0.75,
            max: 533.4,
            afterBuildTicks: (s: any) => { s.ticks = timeTickBars.map((v) => ({ value: v + 0.2 })); },
            afterFit: (s: any) => { s.height = 27; },
            ticks: {
              autoSkip: false,
              maxRotation: 0,
              color: "#666",
              font: { size: 11, family: FONT },
              padding: 4,
              callback: (v: any) => timeTickLabels[timeTickBars.indexOf(Math.round(Number(v) - 0.2))] ?? "",
            },
            grid: { drawOnChartArea: false, tickLength: 4, color: "#555", offset: false },
            border: { color: "#555" },
          },
          y: {
            type: "linear",
            position: "right",
            stack: "panes",
            stackWeight: 1053,
            min: 1.10590,
            max: 1.16481,
            afterBuildTicks: (s: any) => { s.ticks = priceTicks.map((v) => ({ value: v })); },
            afterFit: (s: any) => { s.width = 63; },
            ticks: {
              autoSkip: false,
              color: "#777",
              font: { size: 11, family: FONT },
              padding: 5,
              callback: (v: any) => Number(v).toFixed(5),
            },
            grid: { drawOnChartArea: false, tickLength: 4, color: "#555" },
            border: { color: "#555" },
          },
          y2: {
            type: "linear",
            position: "right",
            stack: "panes",
            stackWeight: 206,
            min: -0.667,
            max: 0.85,
            afterBuildTicks: (s: any) => { s.ticks = oscTicks.map((v) => ({ value: v })); },
            afterFit: (s: any) => { s.width = 63; },
            ticks: {
              autoSkip: false,
              color: "#777",
              font: { size: 11, family: FONT },
              padding: 5,
              callback: (v: any) => (Number(v) < 0 ? "\u2212" : "") + Math.abs(Number(v)).toFixed(5),
            },
            grid: { drawOnChartArea: false, tickLength: 4, color: "#555" },
            border: { color: "#555" },
          },
        },
      } as any,
      plugins: [drawingsPlugin] as any,
    });
    return () => chart.destroy();
  }, []);
  return (
    <div style={{ position: "absolute", left: 0, top: 0, width: 2788, height: 1367 }}>
      <canvas ref={ref} width={2788} height={1367} style={{ display: "block" }} />
    </div>
  );
}
